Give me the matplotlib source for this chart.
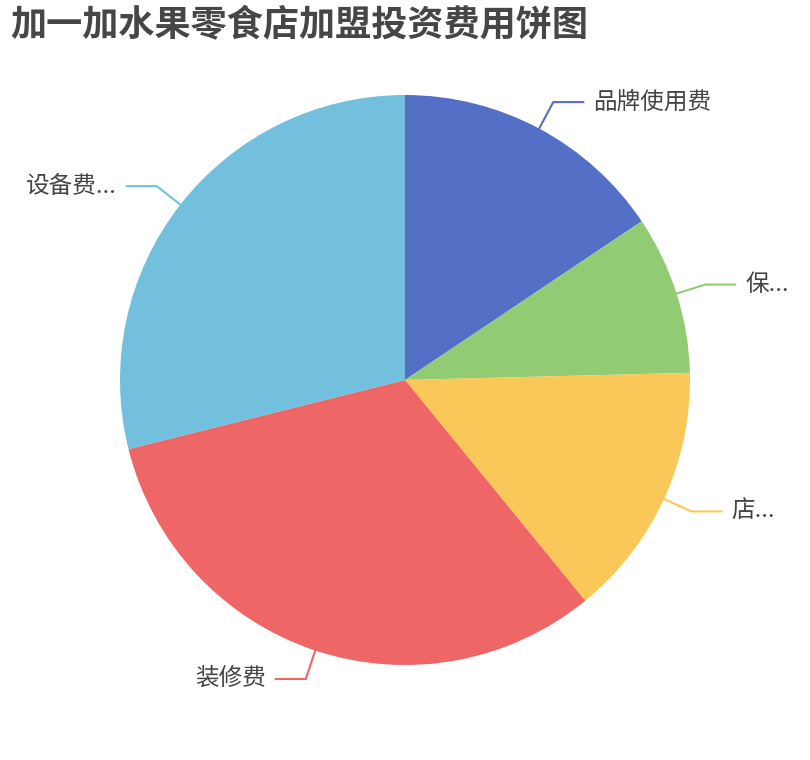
import numpy as np
import matplotlib
matplotlib.use("Agg")
import matplotlib.pyplot as plt

plt.rcParams['font.family'] = ['Noto Sans CJK SC', 'DejaVu Sans']

# Data (labels shown truncated as in the original)
labels = ["品牌使用费", "保...", "店...", "装修费", "设备费..."]
values = [15.6, 9.0, 14.5, 32.0, 28.9]
colors = ["#5470c6", "#91cc75", "#fac858", "#ee6666", "#73c0de"]
title = "加一加水果零食店加盟投资费用饼图"

W, H = 810, 760
fig = plt.figure(figsize=(W / 100, H / 100), dpi=100)
ax = fig.add_axes([0, 0, 1, 1])

cx, cy, r = 405, H - 380, 285
wedges, _ = ax.pie(values, colors=colors, startangle=90, counterclock=False,
                   center=(cx, cy), radius=r, frame=True,
                   wedgeprops=dict(linewidth=0))
ax.set_xlim(0, W)
ax.set_ylim(0, H)
ax.set_aspect('equal')
ax.axis('off')

# label lines like echarts: radial segment then horizontal segment
for w, lab, col in zip(wedges, labels, colors):
    mid = np.deg2rad((w.theta1 + w.theta2) / 2)
    dx, dy = np.cos(mid), np.sin(mid)
    p0 = (cx + r * dx, cy + r * dy)
    p1 = (cx + (r + 30) * dx, cy + (r + 30) * dy)
    side = 1 if dx >= 0 else -1
    p2 = (p1[0] + side * 30, p1[1])
    ax.plot([p0[0], p1[0], p2[0]], [p0[1], p1[1], p2[1]], color=col, lw=1.5,
            solid_joinstyle='miter')
    ax.text(p2[0] + side * 10, p2[1], lab, fontsize=17, color="#444444",
            ha='left' if side > 0 else 'right', va='center')

fig.text(10 / W, 1 - 26 / H, title, fontsize=26, fontweight='bold',
         color="#464646", ha='left', va='center')

fig.savefig("out.png", dpi=100)
